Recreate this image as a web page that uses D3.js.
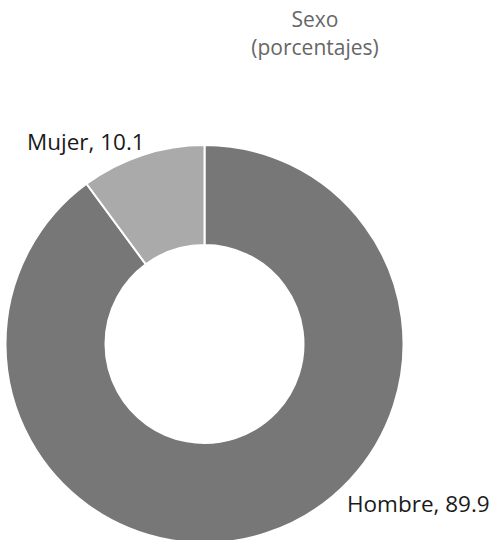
<!DOCTYPE html>
<meta charset="utf-8">
<script src="https://d3js.org/d3.v7.min.js"></script>
<style>body{margin:0;background:#fff}</style>
<div id="my_dataviz"></div>
<script>
// data
var categories = ["Hombre", "Mujer"];
var values = [89.9, 10.1];
var colors = ["#777777", "#aaaaaa"];

var width = 497, height = 540;
var cx = 204.5, cy = 344, outerR = 199, innerR = 99;

var svg = d3.select("#my_dataviz").append("svg")
    .attr("width", width).attr("height", height);

// title
var title = svg.append("text")
    .attr("text-anchor", "middle")
    .style("font-family", "'Open Sans', sans-serif")
    .style("font-size", "21px")
    .attr("fill", "#666");
title.append("tspan").attr("x", 315).attr("y", 27).text("Sexo");
title.append("tspan").attr("x", 315).attr("y", 55).text("(porcentajes)");

var data = categories.map(function(c, i){ return {name: c, value: values[i]}; });

// Hombre runs clockwise from 12 o'clock, Mujer closes the ring
var pie = d3.pie().sort(null).value(function(d){ return d.value; })
    .startAngle(0).endAngle(2 * Math.PI);

var arc = d3.arc().innerRadius(innerR).outerRadius(outerR);

var g = svg.append("g").attr("transform", "translate(" + cx + "," + cy + ")");

g.selectAll("path")
  .data(pie(data))
  .enter().append("path")
    .attr("d", arc)
    .attr("fill", function(d, i){ return colors[i]; })
    .attr("stroke", "#fff")
    .attr("stroke-width", 2);

// labels
var labelPos = [[347, 512], [27, 150]];
svg.selectAll(".lbl")
  .data(data)
  .enter().append("text")
    .attr("class", "lbl")
    .attr("x", function(d, i){ return labelPos[i][0]; })
    .attr("y", function(d, i){ return labelPos[i][1]; })
    .style("font-family", "'Open Sans', sans-serif")
    .style("font-size", "22.5px")
    .attr("fill", "#1a1a1a")
    .text(function(d){ return d.name + ", " + d.value; });
</script>
